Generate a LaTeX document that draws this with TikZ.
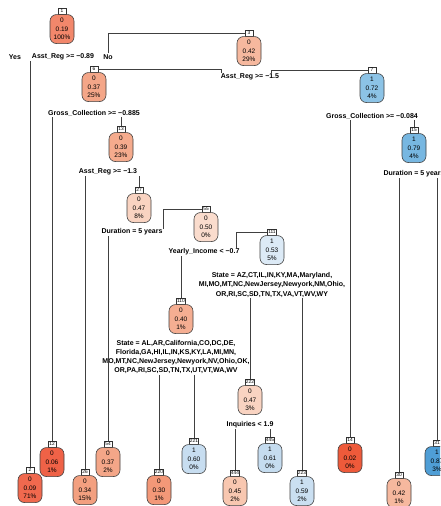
\documentclass[tikz,border=0pt]{standalone}
\usepackage{fontspec}
\setmainfont{Liberation Sans}
\definecolor{c002}{HTML}{EE5A3A}
\definecolor{c006}{HTML}{EF6247}
\definecolor{c009}{HTML}{F0694E}
\definecolor{c019}{HTML}{F2876B}
\definecolor{c030}{HTML}{F39878}
\definecolor{c034}{HTML}{F3A080}
\definecolor{c037}{HTML}{F4A688}
\definecolor{c039}{HTML}{F5AB8D}
\definecolor{c040}{HTML}{F5AE92}
\definecolor{c042}{HTML}{F6B89E}
\definecolor{c045}{HTML}{F8C7B0}
\definecolor{c047}{HTML}{F9D3C1}
\definecolor{c050}{HTML}{FADCCD}
\definecolor{c053}{HTML}{DCEAF6}
\definecolor{c059}{HTML}{CADFF1}
\definecolor{c060}{HTML}{C7DDF0}
\definecolor{c061}{HTML}{C5DCEF}
\definecolor{c072}{HTML}{8CC3E6}
\definecolor{c079}{HTML}{77B7E1}
\definecolor{c087}{HTML}{4F9ED6}
\tikzset{
  body/.style={draw=black!75, line width=0.6pt, rounded corners=6.5pt, minimum width=24pt,
    minimum height=29pt, inner sep=1pt, align=center, anchor=north,
    font=\fontsize{6.5}{8.5}\selectfont},
  lbl/.style={draw=black!80, fill=white, line width=0.5pt, inner sep=0.7pt,
    minimum width=8pt, minimum height=6pt, font=\fontsize{4.8}{5}\selectfont},
  split/.style={font=\bfseries\fontsize{7}{9.2}\selectfont, align=center, inner sep=1pt},
  edge/.style={draw=black!75, line width=0.6pt},
}
\newcommand\rpnode[7]{%
  \node[lbl] (b#1) at (#2,#3) {#1};
  \node[body, fill=#4] (n#1) at (b#1.south) {#5\\#6\\#7};
}
\begin{document}
\begin{tikzpicture}[x=1pt,y=-1pt]
\useasboundingbox (0,0) rectangle (440,506);
\clip (0,0) rectangle (440,506);
\fill[white] (0,0) rectangle (440,506);
% nodes
\rpnode{1}{62}{11}{c019}{0}{0.19}{100\%}
\rpnode{3}{249}{33}{c042}{0}{0.42}{29\%}
\rpnode{6}{94}{69}{c037}{0}{0.37}{25\%}
\rpnode{7}{372}{70}{c072}{1}{0.72}{4\%}
\rpnode{13}{121}{129}{c039}{0}{0.39}{23\%}
\rpnode{15}{414}{130}{c079}{1}{0.79}{4\%}
\rpnode{27}{139}{190}{c047}{0}{0.47}{8\%}
\rpnode{55}{206}{209}{c050}{0}{0.50}{0\%}
\rpnode{111}{272}{232}{c053}{1}{0.53}{5\%}
\rpnode{110}{181}{301}{c040}{0}{0.40}{1\%}
\rpnode{222}{250}{382}{c047}{0}{0.47}{3\%}
\rpnode{2}{30}{470}{c009}{0}{0.09}{71\%}
\rpnode{12}{52}{444}{c006}{0}{0.06}{1\%}
\rpnode{26}{85}{472}{c034}{0}{0.34}{15\%}
\rpnode{54}{108}{444}{c037}{0}{0.37}{2\%}
\rpnode{220}{159}{472}{c030}{0}{0.30}{1\%}
\rpnode{221}{194}{441}{c060}{1}{0.60}{0\%}
\rpnode{444}{235}{473}{c045}{0}{0.45}{2\%}
\rpnode{445}{270}{440}{c061}{1}{0.61}{0\%}
\rpnode{223}{302}{473}{c059}{1}{0.59}{2\%}
\rpnode{14}{350}{440}{c002}{0}{0.02}{0\%}
\rpnode{30}{399}{475}{c042}{0}{0.42}{1\%}
\rpnode{31}{437}{443}{c087}{1}{0.87}{3\%}
% split labels
\node[split] (s1) at (63,57) {Asst\_Reg >= −0.89};
\node[split] (yes) at (15,57) {Yes};
\node[split] (no) at (108,57) {No};
\node[split] (s3) at (250,77) {Asst\_Reg >= −1.5};
\node[split] (s6) at (94,113) {Gross\_Collection >= −0.885};
\node[split] (s7) at (372,116) {Gross\_Collection >= −0.084};
\node[split] (s13) at (108,172) {Asst\_Reg >= −1.3};
\node[split] (s27) at (132,232) {Duration = 5 years};
\node[split] (s15) at (414,174) {Duration = 5 years};
\node[split] (s55) at (204,252) {Yearly\_Income < −0.7};
\node[split] (s111) at (272,285) {State = AZ,CT,IL,IN,KY,MA,Maryland,\\MI,MO,MT,NC,NewJersey,Newyork,NM,Ohio,\\OR,RI,SC,SD,TN,TX,VA,VT,WV,WY};
\node[split] (s110) at (176,357) {State = AL,AR,California,CO,DC,DE,\\Florida,GA,HI,IL,IN,KS,KY,LA,MI,MN,\\MO,MT,NC,NewJersey,Newyork,NV,Ohio,OK,\\OR,PA,RI,SC,SD,TN,TX,UT,VT,WA,WV};
\node[split] (s222) at (250,425) {Inquiries < 1.9};
% free ends of the elbow connectors
\coordinate (t3l) at (221,73);
\coordinate (t3r) at (271,73);
\coordinate (t27) at (163,229);
\coordinate (t55) at (236,248);
% connectors
\draw[edge] (s1.south -| b2) -- (b2.north);
\draw[edge] (no.north) |- (b3.west);
\draw[edge] (t3l) |- (b6.east);
\draw[edge] (t3r) |- (b7.west);
\draw[edge] (s6.south -| b12) -- (b12.north);
\draw[edge] (s6.south -| b13) -- (b13.north);
\draw[edge] (s13.south -| b26) -- (b26.north);
\draw[edge] (s13.south -| b27) -- (b27.north);
\draw[edge] (s27.south -| b54) -- (b54.north);
\draw[edge] (t27) |- (b55.west);
\draw[edge] (s55.south -| b110) -- (b110.north);
\draw[edge] (t55) |- (b111.west);
\draw[edge] (s110.south -| b220) -- (b220.north);
\draw[edge] (s110.south -| b221) -- (b221.north);
\draw[edge] (s111.south -| b222) -- (b222.north);
\draw[edge] (s111.south -| b223) -- (b223.north);
\draw[edge] (s222.south -| b444) -- (b444.north);
\draw[edge] (s222.south -| b445) -- (b445.north);
\draw[edge] (s7.south -| b14) -- (b14.north);
\draw[edge] (s7.south -| b15) -- (b15.north);
\draw[edge] (s15.south -| b30) -- (b30.north);
\draw[edge] (s15.south -| b31) -- (b31.north);
\end{tikzpicture}
\end{document}
